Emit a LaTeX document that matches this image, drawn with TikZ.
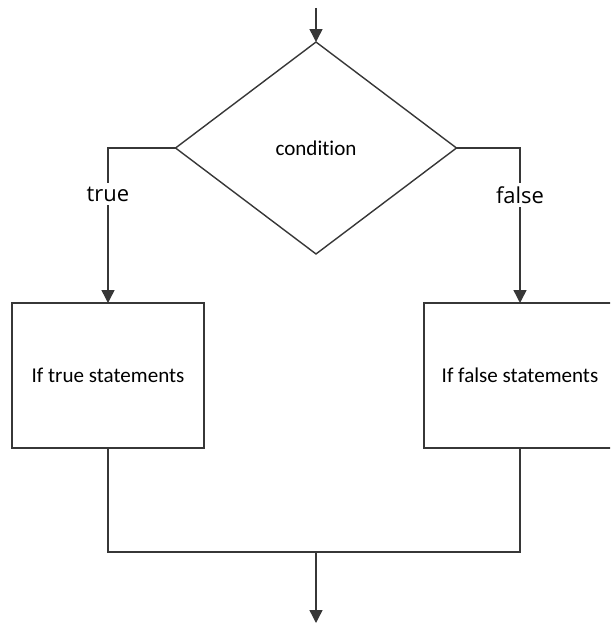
\documentclass[tikz,border=0pt]{standalone}
\usepackage{fontspec}
\setmainfont{Carlito}[Ligatures=NoCommon]
\newfontfamily\branchfont{Open Sans}
\usetikzlibrary{shapes.geometric,arrows.meta}
\definecolor{linegray}{RGB}{55,55,55}

\begin{document}
\begin{tikzpicture}[x=0.02cm,y=-0.02cm,line width=0.8pt,
  flow/.style={draw=linegray,-{Triangle[length=0.26cm,width=0.26cm]}},
  link/.style={draw=linegray},
  decision/.style={diamond,draw=linegray,inner sep=0pt,outer sep=0pt,
    minimum width=5.62cm,minimum height=4.24cm,font=\fontsize{12}{14}\selectfont},
  block/.style={rectangle,draw=linegray,inner sep=0pt,outer sep=0pt,
    minimum width=3.84cm,minimum height=2.9cm,font=\fontsize{12}{14}\selectfont},
  branch/.style={fill=white,inner sep=2pt,font=\branchfont\fontsize{12.5}{15}\selectfont}]
  \useasboundingbox (0,0) rectangle (610,624);
  \clip (0,0) rectangle (610,624);

  \coordinate (start) at (316,8);
  \node[decision] (cond) at (316,148) {condition};

  % the two branches
  \node[block] (tbox) at (108,375.5) {If true statements};
  \node[block] (fbox) at (520,375.5) {If false statements};

  \draw[flow] (start) -- (cond.north);
  \draw[flow] (cond.west) -| (tbox.north);
  \draw[flow] (cond.east) -| (fbox.north);
  \node[branch] (tlab) at (108,194) {true};
  \node[branch] (flab) at (520,195) {false};

  % join below the boxes
  \coordinate (join) at (316,552);
  \coordinate (stop) at (316,623);
  \draw[link] (tbox.south) -- (tbox.south |- join) -| (fbox.south);
  \draw[flow] (join) -- (stop);
\end{tikzpicture}
\end{document}
